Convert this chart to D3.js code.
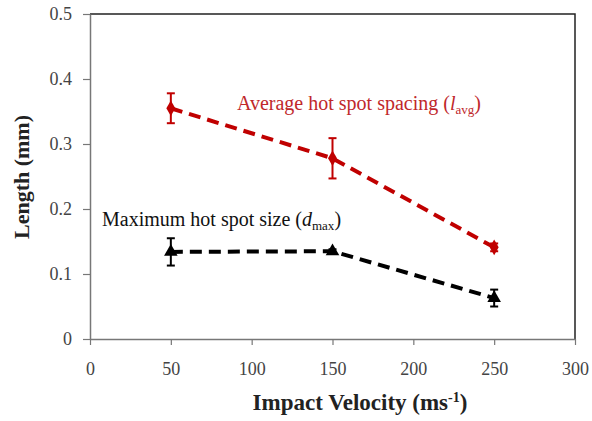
<!DOCTYPE html>
<html>
<head>
<meta charset="utf-8">
<script src="https://cdn.jsdelivr.net/npm/d3@7"></script>
<style>
body { margin: 0; background: #fff; }
text { font-family: "Liberation Serif", "Times New Roman", serif; }
</style>
</head>
<body>
<svg width="592" height="421"></svg>
<script>
var velocity = [50, 150, 250];
var spacing = [0.355, 0.278, 0.141];
var spacingErr = [0.023, 0.031, 0.006];
var size = [0.134, 0.135, 0.063];
var sizeErr = [0.021, 0.003, 0.013];
var xTicks = [0, 50, 100, 150, 200, 250, 300];
var yTicks = [0, 0.1, 0.2, 0.3, 0.4, 0.5];

var svg = d3.select("svg");
var pl = 90, pr = 575, pt = 14, pb = 339;

var x = d3.scaleLinear().domain([0, 300]).range([pl, pr]);
var y = d3.scaleLinear().domain([0, 0.5]).range([pb, pt]);

// frame (top / right black)
svg.append("path")
	.attr("d", `M${pl},${pt}H${pr}V${pb}`)
	.attr("fill", "none")
	.attr("stroke", "#222")
	.attr("stroke-width", 1.5);

var xAxis = svg.append("g")
	.attr("transform", `translate(0,${pb})`)
	.call(d3.axisBottom(x).tickValues(xTicks).tickSize(6).tickSizeOuter(0).tickPadding(17).tickFormat(d3.format("d")));
var yAxis = svg.append("g")
	.attr("transform", `translate(${pl},0)`)
	.call(d3.axisLeft(y).tickValues(yTicks).tickSize(7).tickSizeOuter(0).tickPadding(11).tickFormat(function(d){ return d === 0 ? "0" : d3.format(".1f")(d); }));

[xAxis, yAxis].forEach(function(g){
	g.select(".domain").attr("stroke", "#777").attr("stroke-width", 1.5);
	g.selectAll(".tick line").attr("stroke", "#777").attr("stroke-width", 1.2);
	g.selectAll(".tick text")
		.attr("fill", "#444")
		.style("font-size", "18px")
		.style("font-family", "Liberation Serif, serif");
});

// axis titles
svg.append("text")
	.attr("transform", "translate(29,177) rotate(-90)")
	.attr("text-anchor", "middle")
	.style("font-size", "22px")
	.style("font-weight", "bold")
	.attr("fill", "#222")
	.text("Length (mm)");

var xt = svg.append("text")
	.attr("x", 360).attr("y", 410)
	.attr("text-anchor", "middle")
	.style("font-size", "23px")
	.style("font-weight", "bold")
	.attr("fill", "#222");
xt.append("tspan").text("Impact Velocity (ms");
xt.append("tspan").attr("dy", -8).style("font-size", "14px").text("-1");
xt.append("tspan").attr("dy", 8).text(")");

function series(vals, errs, color, marker) {
	var line = d3.line().x(function(d, i){ return x(velocity[i]); }).y(function(d){ return y(d); });
	svg.append("path")
		.datum(vals)
		.attr("d", line)
		.attr("fill", "none")
		.attr("stroke", color)
		.attr("stroke-width", 4)
		.attr("stroke-dasharray", "12,7");
	var g = svg.append("g");
	vals.forEach(function(v, i){
		var cx = x(velocity[i]);
		var y1 = y(v + errs[i]), y2 = y(v - errs[i]);
		g.append("line").attr("x1", cx).attr("x2", cx).attr("y1", y1).attr("y2", y2)
			.attr("stroke", color).attr("stroke-width", 2);
		[y1, y2].forEach(function(yy){
			g.append("line").attr("x1", cx - 4).attr("x2", cx + 4).attr("y1", yy).attr("y2", yy)
				.attr("stroke", color).attr("stroke-width", 2);
		});
		g.append("path")
			.attr("transform", `translate(${cx},${y(v)})`)
			.attr("d", d3.symbol().type(marker).size(marker === d3.symbolDiamond ? 70 : 80)())
			.attr("fill", color);
	});
}

series(spacing, spacingErr, "#c00000", d3.symbolDiamond);
series(size, sizeErr, "#000", d3.symbolTriangle);

// annotations
var a1 = svg.append("text")
	.attr("x", 237).attr("y", 110)
	.style("font-size", "20px")
	.attr("fill", "#c0282b");
a1.append("tspan").text("Average hot spot spacing (");
a1.append("tspan").style("font-style", "italic").text("l");
a1.append("tspan").attr("dy", 4).style("font-size", "13px").text("avg");
a1.append("tspan").attr("dy", -4).text(")");

var a2 = svg.append("text")
	.attr("x", 102).attr("y", 226)
	.style("font-size", "20px")
	.attr("fill", "#111");
a2.append("tspan").text("Maximum hot spot size (");
a2.append("tspan").style("font-style", "italic").text("d");
a2.append("tspan").attr("dy", 4).style("font-size", "13px").text("max");
a2.append("tspan").attr("dy", -4).text(")");
</script>
</body>
</html>
